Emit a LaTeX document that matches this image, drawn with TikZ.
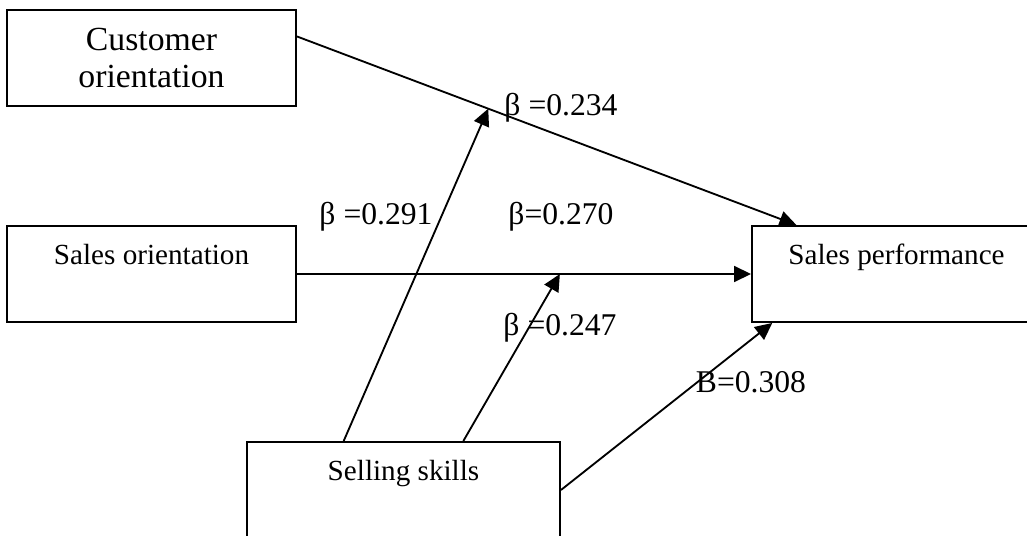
\documentclass[tikz,border=0pt]{standalone}
\usepackage{fontspec}
\setmainfont{Liberation Serif}
\usetikzlibrary{arrows.meta,calc}

\tikzset{
  factor/.style={draw,line width=1.1pt,minimum width=5.78cm,minimum height=1.92cm,
    align=center,inner sep=0pt,font=\fontsize{16.6}{22}\selectfont},
  path/.style={line width=1.05pt,-{Triangle[length=0.34cm,width=0.32cm]}},
  coef/.style={inner sep=0pt,font=\fontsize{18}{21}\selectfont}
}

\begin{document}
\begin{tikzpicture}
  \useasboundingbox (0,0) rectangle (20.54,10.7);

  \node[factor,font=\fontsize{19.2}{21.5}\selectfont,yshift=-0.05cm] (cust) at (3.03, 9.59) {Customer\\orientation};
  \node[factor] (salesor) at (3.03, 5.22) {Sales orientation\\~};
  \node[factor] (perf)    at (17.93, 5.22) {Sales performance\\~};
  \node[factor,minimum width=6.26cm] (skills) at (8.07, 0.90) {Selling skills\\~};

  \coordinate (c0) at ($(cust.north east)!0.28!(cust.south east)$);
  \coordinate (c1) at ($(perf.north west)!0.156!(perf.north east)$);
  \coordinate (m1) at ($(c0)!0.383!(c1)$);
  \coordinate (m2) at ($(salesor.east)!0.579!(perf.west)$);

  \draw[path] (c0) -- (c1);
  \draw[path] (salesor.east) -- (perf.west);

  \draw[path] ($(skills.north west)!0.31!(skills.north east)$) -- (m1);
  \draw[path] ($(skills.north west)!0.69!(skills.north east)$) -- (m2);
  \draw[path] (skills.east) -- ($(perf.south west)!0.073!(perf.south east)$);

  \node[coef] (b1) at (11.22, 8.54) {β =0.234};
  \node[coef] (b2) at (7.52, 6.36) {β =0.291};
  \node[coef] (b3) at (11.22, 6.36) {β=0.270};
  \node[coef] (b4) at (11.2, 4.14) {β =0.247};
  \node[coef] (b5) at (15.02, 3.06) {B=0.308};
\end{tikzpicture}
\end{document}
